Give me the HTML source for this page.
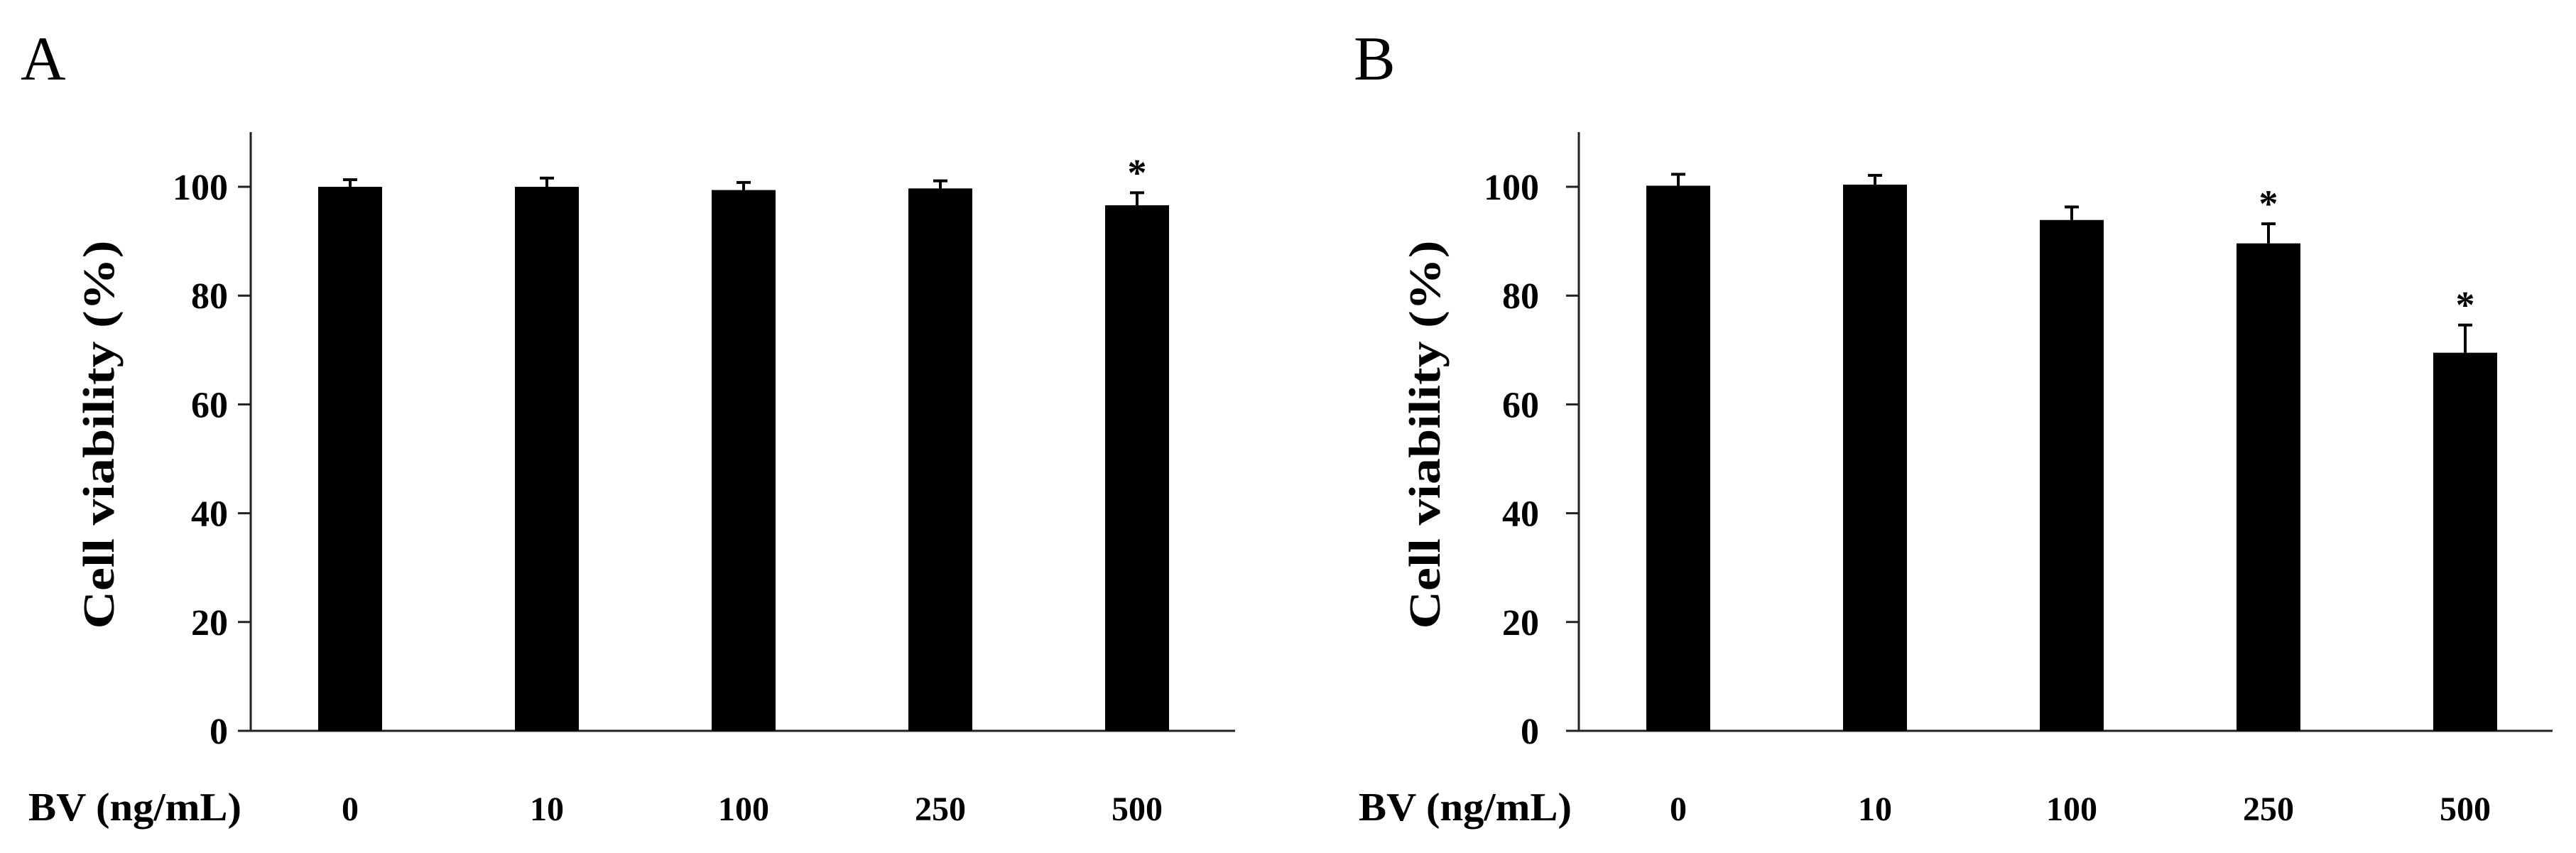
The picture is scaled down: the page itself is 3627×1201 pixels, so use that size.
<!DOCTYPE html>
<html><head><meta charset="utf-8">
<style>
html,body{margin:0;padding:0;background:#fff;}
svg{display:block;}
text{font-family:"Liberation Serif",serif;fill:#000;}
</style></head>
<body>
<svg id="chart" width="3627" height="1201" viewBox="0 0 3627 1201" xmlns="http://www.w3.org/2000/svg"></svg>
<script>
const categories = ["0","10","100","250","500"];
const yTicks = [0,20,40,60,80,100];
const valuesA = [100.0, 100.0, 99.4, 99.7, 96.6];
const errorsA = [1.3, 1.6, 1.4, 1.4, 2.3];
const sigA = [false,false,false,false,true];
const valuesB = [100.2, 100.4, 93.9, 89.6, 69.5];
const errorsB = [2.1, 1.7, 2.4, 3.6, 5.1];
const sigB = [false,false,false,true,true];

const NS="http://www.w3.org/2000/svg";
const svg=document.getElementById('chart');
function mk(tag,attrs,parent){const e=document.createElementNS(NS,tag);for(const k in attrs)e.setAttribute(k,attrs[k]);(parent||svg).appendChild(e);return e;}

function panel(id,letter,letterX,axisX,axisEnd,firstCenter,tickGap,titleX,bvX,values,errors,sig){
  const g=mk('g',{});
  
  
  const y0=1029, perUnit=7.66, top=186, step=277, bw=90;
  const yS=v=>y0-v*perUnit;
  const xS=i=>firstCenter+i*step;
  const L=mk('text',{x:letterX,y:112,'font-size':88},g);L.textContent=letter;
  
  
  const ya=mk('line',{x1:axisX,y1:top,x2:axisX,y2:y0,stroke:'#222','stroke-width':3},g);
  
  
  const xa=mk('line',{x1:axisX-18,y1:y0,x2:axisEnd,y2:y0,stroke:'#222','stroke-width':3},g);
  
  
  yTicks.forEach(t=>{
    const tk=mk('line',{x1:axisX-18,y1:yS(t),x2:axisX,y2:yS(t),stroke:'#222','stroke-width':3},g);
    
    
    const tl=mk('text',{x:axisX-tickGap,y:yS(t)+18,'font-size':52,'font-weight':'bold','text-anchor':'end'},g);
    tl.textContent=t;
    
    
  });
  const yt=mk('text',{x:titleX,y:612,'font-size':62,'font-weight':'bold','text-anchor':'middle',transform:`rotate(-90 ${titleX} 612)`,textLength:547,lengthAdjust:'spacingAndGlyphs'},g);
  yt.textContent='Cell viability (%)';
  
  
  const bv=mk('text',{x:bvX,y:1155,'font-size':56,'font-weight':'bold',textLength:300,lengthAdjust:'spacingAndGlyphs'},g);
  bv.textContent='BV (ng/mL)';
  
  
  values.forEach((v,i)=>{
    const cx=xS(i);
    const b=mk('rect',{x:cx-bw/2,y:yS(v),width:bw,height:y0-yS(v),fill:'#000'},g);
    
    
    const et=yS(v+errors[i]);
    const e1=mk('line',{x1:cx,y1:yS(v),x2:cx,y2:et,stroke:'#000','stroke-width':4},g);
    
    
    const e2=mk('line',{x1:cx-10,y1:et,x2:cx+10,y2:et,stroke:'#000','stroke-width':4},g);
    
    
    if(sig[i]){
      const s=mk('text',{x:cx,y:et-10,'font-size':54,'font-weight':'bold','text-anchor':'middle'},g);
      s.textContent='*';
      
      
    }
    const cl=mk('text',{x:cx,y:1155,'font-size':48,'font-weight':'bold','text-anchor':'middle'},g);
    cl.textContent=categories[i];
    
    
  });
}
panel('a','A',29,353,1739,493,32,160,40,valuesA,errorsA,sigA);
panel('b','B',1906,2223,3594,2363,56,2027,1913,valuesB,errorsB,sigB);
</script>
</body></html>
